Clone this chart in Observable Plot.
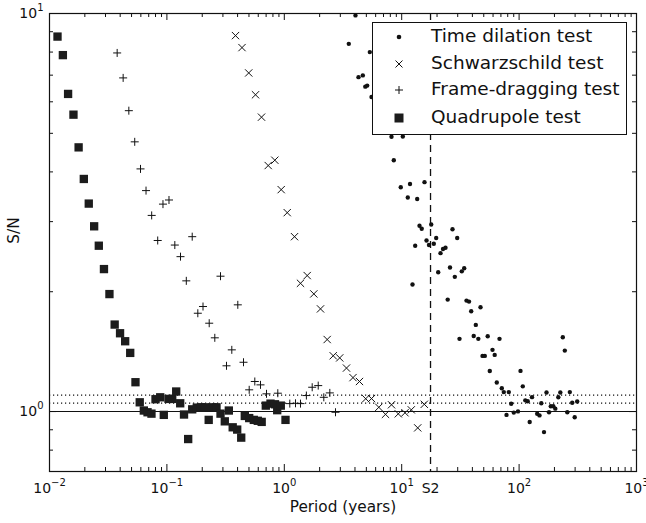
<!DOCTYPE html>
<html>
<head>
<meta charset="utf-8">
<script src="https://cdn.jsdelivr.net/npm/d3@7"></script>
<script src="https://cdn.jsdelivr.net/npm/@observablehq/plot@0.6"></script>
<style>
  body { margin: 0; background: #fff; }
  #wrap { position: relative; width: 646px; height: 523px; font-family: "DejaVu Sans", sans-serif; overflow: hidden; }
  #legend { position: absolute; left: 372px; top: 22px; width: 255px; height: 113px; box-sizing: border-box;
            border: 1px solid #111; background: #fff; }
  .row { position: absolute; left: 0; height: 24px; width: 250px; font-size: 18.5px; color: #111; }
  .row svg { position: absolute; left: 17px; top: 4px; }
  .row span { position: absolute; left: 58px; top: 1px; white-space: nowrap; line-height: 22px; }
</style>
</head>
<body>
<div id="wrap"></div>
<script>
// ---------- data ----------
const quadPeriod = [0.0117,0.0130,0.0144,0.0160,0.0177,0.0196,0.0216,0.0240,0.0263,0.0291,
  0.0324,0.0359,0.0399,0.0441,0.0487,0.0540,0.0587,0.0636,0.0684,0.0739,
  0.0800,0.0877,0.0941,0.1032,0.1110,0.1200,0.1298,0.1399,0.1518,0.1643,
  0.1797,0.1952,0.2111,0.2270,0.2445,0.2646,0.2862,0.3113,0.3368,0.3635,
  0.3970,0.4296,0.4609,0.5023,0.5498,0.5946,0.6418,0.6957,0.7630,0.8334,
  0.8701,0.9337,1.024];
const quadSN = [8.75,7.86,6.28,5.57,4.61,3.84,3.33,2.92,2.61,2.28,
  1.973,1.654,1.573,1.502,1.404,1.185,1.055,1.006,0.996,0.988,
  1.074,1.086,0.981,1.076,1.076,1.123,1.049,0.983,0.853,1.013,
  1.023,1.025,1.025,0.953,1.025,1.025,0.988,0.945,1.006,0.913,
  0.901,0.860,0.975,0.963,0.953,0.948,0.942,1.035,1.047,1.043,
  1.008,1.035,0.953];

const frameDragPeriod = [0.0377,0.0424,0.0474,0.0532,0.0596,0.0664,0.0742,0.0835,0.0926,0.1042,
  0.1168,0.1306,0.1463,0.1643,0.1834,0.2030,0.2293,0.2559,0.2862,0.3218,
  0.3571,0.4017,0.4493,0.5023,0.5608,0.6270,0.7054,0.8805,1.114,1.246,
  1.374,1.542,1.728,1.945,2.170,2.442,2.730];
const frameDragSN = [7.96,6.89,5.70,4.76,4.07,3.59,3.11,2.69,3.32,3.40,
  2.62,2.45,2.13,2.75,1.766,1.836,1.667,1.532,2.188,1.303,
  1.429,1.854,1.330,1.134,1.190,1.167,1.108,1.112,1.047,1.049,
  1.047,1.097,1.151,1.162,1.086,1.114,0.996];

const schwPeriod = [0.3840,0.4363,0.4975,0.5686,0.6395,0.7294,0.8301,0.9410,1.059,1.222,
  1.374,1.567,1.784,2.034,2.319,2.610,2.965,3.386,3.847,4.370,
  4.936,5.531,6.383,7.278,8.187,9.354,10.67,12.07,13.69,15.58];
const schwSN = [8.80,8.21,7.09,6.25,5.49,4.15,4.28,3.61,3.16,2.75,
  2.10,2.196,1.975,1.811,1.517,1.381,1.364,1.286,1.217,1.190,
  1.077,1.078,1.025,0.984,1.040,0.987,0.993,1.010,0.910,1.043];

const timeDilPeriod = [4.04,3.543,5.350,4.285,4.665,4.898,5.083,5.531,8.187,10.22,
  8.564,9.82,11.77,15.64,11.27,13.55,14.18,14.81,17.84,27.08,
  29.70,13.03,16.27,17.08,18.77,19.67,12.36,20.46,21.41,22.48,
  23.61,25.79,28.34,32.51,34.07,24.65,35.65,37.44,39.08,46.92,
  42.78,31.07,41.06,44.94,54.03,68.08,59.34,61.97,48.79,51.04,
  56.28,64.57,71.22,74.07,81.72,102.8,107.5,85.64,78.11,90.14,
  97.86,112.9,118.4,128.8,123.1,142.6,149.2,163.0,154.6,171.2,
  179.8,186.2,195.6,203.4,215.8,224.4,235.6,245.1,257.4,270.4,
  283.4,297.6,312.5];
const timeDilSN = [9.89,8.39,8.00,6.92,6.99,6.55,6.59,6.17,4.90,4.91,
  4.28,3.66,3.73,3.77,3.45,3.42,2.93,2.88,2.95,2.87,
  2.73,2.61,2.69,2.62,2.64,2.73,2.085,2.239,2.50,2.56,
  2.58,2.30,2.18,2.25,2.29,1.911,1.900,1.889,1.786,1.829,
  1.651,1.523,1.548,1.523,1.546,1.523,1.429,1.388,1.380,1.380,
  1.264,1.183,1.144,1.119,1.119,1.265,1.157,1.046,0.981,0.994,
  1.001,1.067,1.061,1.087,0.941,0.987,0.978,0.888,1.049,1.117,
  0.996,1.031,1.031,1.017,1.086,1.117,1.537,1.423,0.996,1.119,
  1.052,0.968,1.060];

const seriesNames = ["Time dilation test", "Schwarzschild test", "Frame-dragging test", "Quadrupole test"];
const xMajorTicks = [0.01, 0.1, 1, 10, 100, 1000];
const xTickLabels = ["10^−2", "10^−1", "10^0", "10^1", "10^2", "10^3"];
const yMajorTicks = [1, 10];
const yTickLabels = ["10^0", "10^1"];
const unitLine = [1];
const dottedLines = [1.05, 1.1];
const s2Period = [17.6];
const s2Label = "S2";
const xLabel = ["Period (years)"];
const yLabel = ["S/N"];
const xDomain = [0.01, 1000];
const yDomain = [0.707, 10];

// ---------- helpers ----------
const toRows = (xs, ys) => xs.map((p, i) => ({p, s: ys[i]}));
const quad = toRows(quadPeriod, quadSN);
const frameDrag = toRows(frameDragPeriod, frameDragSN);
const schw = toRows(schwPeriod, schwSN);
const timeDil = toRows(timeDilPeriod, timeDilSN);

const xMinorTicks = [];
for (let e = -2; e < 3; e++) for (let m = 2; m <= 9; m++) xMinorTicks.push(m * Math.pow(10, e));
const yMinorTicks = [0.8, 0.9, 2, 3, 4, 5, 6, 7, 8, 9];

const W = 646, H = 523, mL = 49, mR = 10, mT = 13, mB = 52;
const innerW = W - mL - mR, innerH = H - mT - mB;
const tMaj = 7, tMin = 4;
const ink = "#111";

const xFmt = d => xTickLabels[xMajorTicks.indexOf(d)];
const yFmt = d => yTickLabels[yMajorTicks.indexOf(d)];

const chart = Plot.plot({
  width: W, height: H,
  marginLeft: mL, marginRight: mR, marginTop: mT, marginBottom: mB,
  style: {fontFamily: "DejaVu Sans, sans-serif", fontSize: "14px", color: ink, background: "#fff", overflow: "visible"},
  x: {type: "log", domain: xDomain, label: null},
  y: {type: "log", domain: yDomain, label: null},
  marks: [
    Plot.ruleY(unitLine, {y: d => d, stroke: ink, strokeWidth: 1.1}),
    Plot.ruleY(dottedLines, {y: d => d, stroke: ink, strokeWidth: 1.1, strokeDasharray: "1.2,2.8"}),
    Plot.ruleX(s2Period, {x: d => d, stroke: ink, strokeWidth: 1.3, strokeDasharray: "7,5"}),
    Plot.dot(timeDil, {x: "p", y: "s", r: 2.2, fill: ink, stroke: "none", symbol: "circle"}),
    Plot.dot(schw, {x: "p", y: "s", r: 3.4, stroke: ink, strokeWidth: 1, symbol: "times"}),
    Plot.dot(frameDrag, {x: "p", y: "s", r: 2.7, stroke: ink, strokeWidth: 1, symbol: "plus"}),
    Plot.dot(quad, {x: "p", y: "s", r: 4.7, fill: "#1c1c1c", stroke: "none", symbol: "square"}),
    Plot.frame({stroke: ink, strokeWidth: 1.2}),
    Plot.tickX(xMajorTicks, {x: d => d, stroke: ink, insetTop: innerH - tMaj}),
    Plot.tickX(xMajorTicks, {x: d => d, stroke: ink, insetBottom: innerH - tMaj}),
    Plot.tickX(xMinorTicks, {x: d => d, stroke: ink, insetTop: innerH - tMin}),
    Plot.tickX(xMinorTicks, {x: d => d, stroke: ink, insetBottom: innerH - tMin}),
    Plot.tickY(yMajorTicks, {y: d => d, stroke: ink, insetRight: innerW - tMaj}),
    Plot.tickY(yMajorTicks, {y: d => d, stroke: ink, insetLeft: innerW - tMaj}),
    Plot.tickY(yMinorTicks, {y: d => d, stroke: ink, insetRight: innerW - tMin}),
    Plot.tickY(yMinorTicks, {y: d => d, stroke: ink, insetLeft: innerW - tMin}),
    Plot.axisX(xMajorTicks, {anchor: "bottom", tickSize: 0, tickPadding: 12, tickFormat: xFmt, fontSize: 14, label: null}),
    Plot.text(s2Period, {x: d => d, text: () => s2Label, frameAnchor: "bottom", lineAnchor: "top", textAnchor: "middle", dy: 12, fontSize: 14, fill: ink}),
    Plot.axisY(yMajorTicks, {anchor: "left", tickSize: 0, tickPadding: 6, tickFormat: yFmt, fontSize: 14, label: null}),
    Plot.text(xLabel, {text: d => d, frameAnchor: "bottom", lineAnchor: "middle", textAnchor: "middle", dy: 36, fontSize: 15.3, fill: ink}),
    Plot.text(yLabel, {text: d => d, frameAnchor: "left", lineAnchor: "middle", textAnchor: "middle", dx: -35, dy: -12, rotate: -90, fontSize: 15.3, fill: ink})
  ]
});

// turn "10^e" labels into a base with a raised, smaller exponent
chart.querySelectorAll("text").forEach(t => {
  const s = t.textContent;
  if (/^10\^/.test(s)) {
    const exp = s.split("^")[1];
    t.textContent = "10";
    const ts = document.createElementNS("http://www.w3.org/2000/svg", "tspan");
    ts.setAttribute("dy", "-7");
    ts.setAttribute("font-size", "10px");
    ts.textContent = exp;
    t.appendChild(ts);
  }
});

const wrap = document.getElementById("wrap");
wrap.appendChild(chart);

// ---------- legend (overlay inside the axes) ----------
const markerSvg = [
  `<svg width="18" height="18"><circle cx="9" cy="9" r="2.3" fill="${ink}"/></svg>`,
  `<svg width="18" height="18"><path d="M5.5,5.5L12.5,12.5M5.5,12.5L12.5,5.5" stroke="${ink}" stroke-width="1"/></svg>`,
  `<svg width="18" height="18"><path d="M5,9H13M9,5V13" stroke="${ink}" stroke-width="1"/></svg>`,
  `<svg width="18" height="18"><rect x="4.5" y="4.5" width="9" height="9" fill="#1c1c1c"/></svg>`
];
const rowCenters = [13, 39.7, 66.3, 93.7];
const legend = document.createElement("div");
legend.id = "legend";
seriesNames.forEach((name, i) => {
  const row = document.createElement("div");
  row.className = "row";
  row.style.top = (rowCenters[i] - 12) + "px";
  row.innerHTML = markerSvg[i] + `<span>${name}</span>`;
  legend.appendChild(row);
});
wrap.appendChild(legend);
</script>
</body>
</html>
